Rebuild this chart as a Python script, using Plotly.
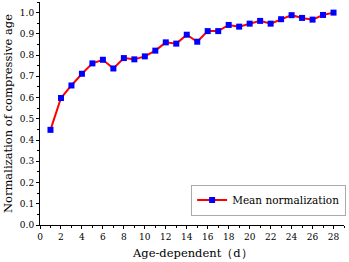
import plotly.graph_objects as go

days = list(range(1, 29))
mean_norm = [0.448, 0.598, 0.657, 0.712, 0.761, 0.778, 0.737, 0.786, 0.780, 0.794,
             0.821, 0.860, 0.854, 0.896, 0.863, 0.913, 0.913, 0.942, 0.934, 0.948,
             0.961, 0.948, 0.969, 0.988, 0.975, 0.967, 0.989, 1.000]
x_ticks = list(range(0, 29, 2))
y_ticks = [round(i * 0.1, 1) for i in range(11)]

font = "DejaVu Serif"

fig = go.Figure()
fig.add_trace(go.Scatter(
    x=days, y=mean_norm, mode="lines+markers", name="Mean normalization",
    line=dict(color="#ff0000", width=2),
    marker=dict(symbol="square", size=6, color="#0000ff", line=dict(width=0)),
))

fig.add_annotation(
    text="Age-dependent（d）", xref="paper", yref="paper", x=0.5, y=-0.125,
    xanchor="center", yanchor="middle", showarrow=False,
    font=dict(size=11.5, family=font, color="black"),
)

fig.update_layout(
    width=349, height=262,
    margin=dict(l=40, r=5, t=2, b=37),
    paper_bgcolor="white", plot_bgcolor="white",
    font=dict(family=font, color="black", size=10),
    showlegend=True,
    legend=dict(x=1.007, y=0.112, xanchor="right", yanchor="middle",
                bordercolor="#aaaaaa", borderwidth=1, bgcolor="white",
                font=dict(size=10.5, family=font), itemwidth=30,
                tracegroupgap=0),
    xaxis=dict(
        range=[0, 29], tickvals=x_ticks, ticktext=[str(v) for v in x_ticks],
        showgrid=False, zeroline=False, showline=True, linecolor="black", linewidth=1,
        ticks="outside", ticklen=3, tickcolor="black",
        minor=dict(dtick=1, ticks="outside", ticklen=2, tickcolor="black"),
        tickfont=dict(size=9),
    ),
    yaxis=dict(
        range=[0, 1.05], tickvals=y_ticks, ticktext=[f"{v:.1f}" for v in y_ticks],
        showgrid=False, zeroline=False, showline=True, linecolor="black", linewidth=1,
        ticks="outside", ticklen=3, tickcolor="black",
        minor=dict(dtick=0.05, ticks="outside", ticklen=2, tickcolor="black"),
        title=dict(text="Normalization of compressive age", font=dict(size=11.5, family=font), standoff=4),
        tickfont=dict(size=9),
    ),
)

fig.write_html("out.html", config={"displayModeBar": False},
               post_script="document.body.style.margin='0';")
